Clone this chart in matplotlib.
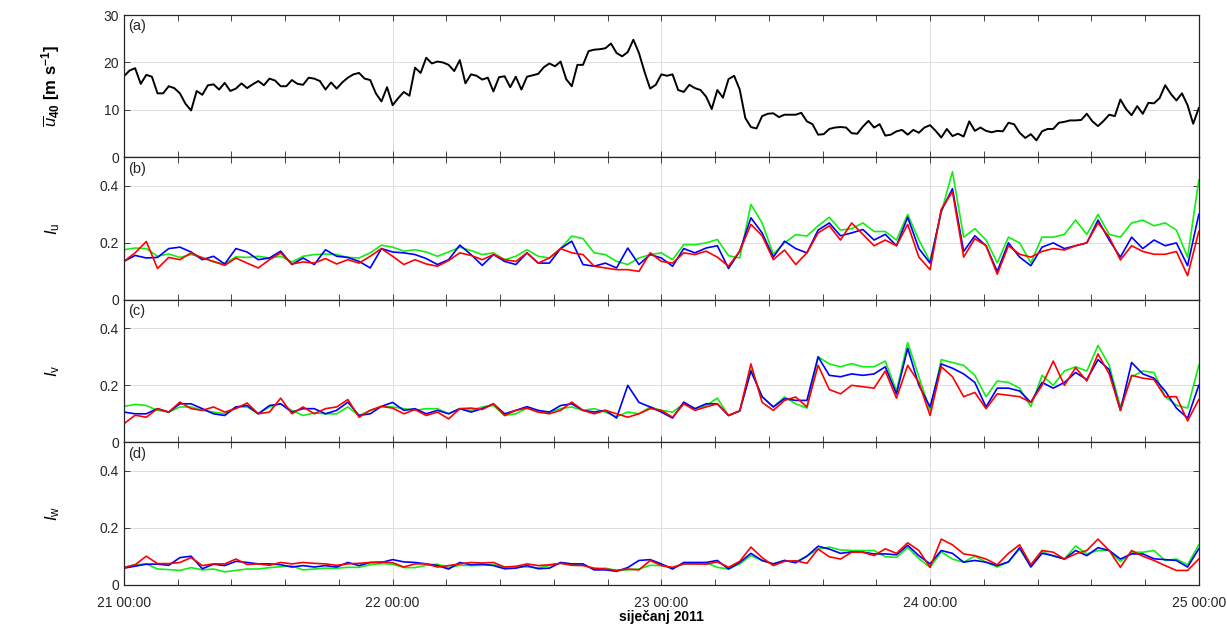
import matplotlib
matplotlib.use("Agg")
import matplotlib.pyplot as plt
import matplotlib.dates as mdates
from matplotlib.ticker import MultipleLocator
import numpy as np
import pandas as pd

plt.rcParams["font.family"] = ["Liberation Sans", "DejaVu Sans"]
plt.rcParams["mathtext.fontset"] = "custom"
plt.rcParams["mathtext.rm"] = "Liberation Sans"
plt.rcParams["mathtext.it"] = "Liberation Sans:italic"
plt.rcParams["mathtext.bf"] = "Liberation Sans:bold"
plt.rcParams["font.size"] = 10

# mean wind speed at 40 m, every 30 min from 21.01.2011 00:00
u40 = [17.1, 18.3, 18.8, 15.5, 17.4, 17.0, 13.5, 13.5, 15.0, 14.6,
       13.5, 11.3, 9.9, 14.0, 13.2, 15.2, 15.4, 14.3, 15.7, 14.0,
       14.5, 15.6, 14.6, 15.4, 16.1, 15.2, 16.6, 16.2, 15.0, 15.0,
       16.3, 15.5, 15.3, 16.8, 16.6, 16.1, 14.3, 15.8, 14.5, 15.8,
       16.8, 17.5, 17.8, 16.6, 16.3, 13.5, 11.8, 14.8, 11.0, 12.5,
       13.8, 13.0, 18.9, 17.8, 21.0, 19.8, 20.2, 20.0, 19.5, 18.2,
       20.5, 15.6, 17.5, 17.2, 16.4, 16.8, 13.9, 16.9, 17.1, 14.8,
       17.0, 14.3, 17.0, 17.3, 17.6, 19.0, 19.8, 19.2, 20.2, 16.5,
       15.0, 19.5, 19.5, 22.4, 22.7, 22.8, 23.0, 24.0, 22.0, 21.3,
       22.2, 24.8, 22.0, 18.0, 14.5, 15.3, 17.5, 17.2, 17.5, 14.2,
       13.8, 15.3, 14.6, 14.2, 12.8, 10.2, 14.2, 12.6, 16.5, 17.2,
       14.3, 8.3, 6.4, 6.1, 8.7, 9.2, 9.3, 8.5, 9.0, 9.0,
       9.0, 9.4, 7.6, 7.0, 4.8, 4.9, 6.0, 6.3, 6.4, 6.3,
       5.1, 5.0, 6.5, 7.7, 6.3, 7.0, 4.6, 4.8, 5.5, 5.8,
       4.8, 5.8, 5.2, 6.3, 6.8, 5.6, 4.2, 6.0, 4.5, 5.0,
       4.4, 7.6, 5.6, 6.3, 5.6, 5.3, 5.6, 5.5, 7.3, 7.0,
       5.2, 4.1, 4.9, 3.6, 5.5, 6.0, 6.0, 7.3, 7.5, 7.8,
       7.8, 7.9, 9.2, 7.6, 6.6, 7.7, 9.0, 8.7, 12.2, 10.2,
       8.9, 10.8, 9.2, 11.5, 11.4, 12.5, 15.2, 13.4, 12.0, 13.5,
       11.0, 7.1, 10.4]

# turbulence intensities, hourly (green / blue / red series)
iu_g = [.176, .182, .180, .153, .161, .149, .159, .149, .133, .126,
        .151, .149, .153, .147, .153, .133, .153, .159, .161, .159,
        .149, .147, .165, .192, .185, .171, .176, .168, .153, .168,
        .185, .173, .159, .165, .141, .153, .176, .153, .147, .180,
        .224, .215, .165, .159, .135, .124, .147, .159, .165, .141,
        .194, .194, .200, .212, .155, .147, .335, .270, .160, .200,
        .229, .224, .260, .290, .245, .250, .270, .240, .240, .210,
        .300, .210, .135, .306, .450, .220, .250, .210, .130, .220,
        .200, .130, .220, .220, .230, .280, .230, .300, .230, .220,
        .270, .280, .260, .270, .245, .150, .420]
iu_b = [.135, .156, .147, .149, .180, .185, .168, .141, .153, .126,
        .180, .168, .141, .147, .171, .124, .147, .124, .176, .153,
        .149, .135, .112, .180, .168, .165, .159, .145, .124, .141,
        .192, .159, .121, .159, .135, .124, .165, .129, .129, .180,
        .206, .124, .118, .129, .112, .182, .124, .159, .147, .118,
        .180, .165, .182, .190, .110, .171, .288, .235, .150, .206,
        .180, .165, .245, .270, .225, .235, .247, .210, .230, .190,
        .290, .180, .129, .312, .390, .170, .225, .190, .100, .200,
        .150, .120, .185, .200, .180, .190, .200, .280, .210, .150,
        .220, .180, .210, .190, .200, .120, .300]
iu_r = [.135, .165, .205, .110, .149, .141, .165, .147, .135, .121,
        .147, .129, .112, .141, .165, .126, .133, .129, .145, .126,
        .141, .129, .153, .180, .153, .124, .141, .126, .118, .138,
        .165, .156, .141, .159, .141, .135, .165, .129, .147, .180,
        .165, .159, .118, .112, .106, .106, .100, .165, .135, .129,
        .165, .159, .171, .150, .118, .171, .265, .225, .141, .175,
        .124, .165, .235, .260, .210, .270, .230, .190, .210, .190,
        .265, .150, .106, .318, .380, .150, .215, .190, .090, .190,
        .160, .150, .170, .180, .175, .190, .200, .270, .220, .140,
        .190, .170, .160, .160, .170, .085, .240]

iv_g = [.126, .133, .129, .112, .106, .124, .124, .112, .106, .100,
        .124, .124, .100, .124, .135, .112, .094, .103, .100, .100,
        .124, .094, .112, .126, .124, .118, .112, .118, .118, .100,
        .118, .112, .124, .129, .094, .100, .120, .106, .106, .118,
        .124, .112, .118, .106, .090, .106, .100, .124, .112, .106,
        .135, .118, .129, .155, .094, .110, .255, .160, .124, .159,
        .135, .120, .300, .275, .265, .276, .265, .265, .285, .180,
        .350, .230, .112, .290, .280, .270, .235, .160, .215, .210,
        .190, .125, .235, .200, .250, .265, .250, .340, .270, .124,
        .230, .250, .245, .160, .130, .120, .270]
iv_b = [.106, .100, .100, .118, .106, .135, .135, .118, .100, .094,
        .124, .129, .100, .129, .135, .106, .118, .118, .100, .112,
        .141, .094, .100, .126, .140, .112, .118, .100, .112, .100,
        .118, .106, .118, .135, .100, .112, .125, .112, .106, .129,
        .135, .112, .106, .112, .085, .200, .140, .124, .106, .085,
        .141, .118, .135, .135, .094, .110, .250, .160, .124, .153,
        .147, .147, .300, .235, .230, .240, .235, .240, .265, .170,
        .330, .200, .124, .275, .260, .240, .210, .124, .190, .190,
        .180, .140, .210, .190, .210, .245, .220, .290, .255, .112,
        .280, .240, .225, .180, .120, .085, .200]
iv_r = [.065, .095, .088, .118, .106, .141, .118, .112, .124, .106,
        .118, .138, .100, .106, .155, .100, .124, .100, .118, .124,
        .150, .088, .112, .126, .120, .100, .115, .094, .106, .082,
        .118, .120, .115, .135, .094, .112, .120, .106, .100, .112,
        .141, .112, .100, .112, .100, .088, .100, .118, .112, .088,
        .135, .112, .124, .135, .094, .110, .275, .140, .112, .147,
        .159, .124, .270, .185, .170, .200, .195, .190, .250, .155,
        .270, .210, .094, .265, .230, .160, .175, .118, .170, .165,
        .160, .140, .200, .285, .200, .262, .215, .310, .240, .112,
        .235, .225, .220, .160, .160, .075, .150]

iw_g = [.061, .070, .073, .055, .053, .050, .060, .052, .055, .045,
        .050, .055, .055, .060, .063, .066, .052, .055, .058, .058,
        .061, .061, .070, .074, .072, .060, .060, .068, .072, .060,
        .068, .067, .068, .070, .062, .064, .062, .059, .067, .075,
        .072, .070, .055, .058, .050, .052, .055, .068, .067, .058,
        .073, .073, .077, .061, .055, .073, .102, .085, .073, .085,
        .080, .100, .125, .132, .122, .120, .120, .120, .098, .096,
        .130, .092, .061, .115, .090, .079, .100, .079, .062, .080,
        .125, .065, .117, .100, .090, .136, .108, .120, .120, .081,
        .114, .114, .120, .085, .090, .070, .140]
iw_b = [.058, .065, .072, .072, .068, .095, .100, .056, .072, .067,
        .082, .078, .073, .073, .070, .062, .067, .062, .067, .062,
        .078, .067, .078, .078, .088, .080, .078, .073, .067, .055,
        .078, .070, .072, .067, .056, .058, .067, .056, .058, .078,
        .073, .073, .052, .052, .047, .060, .085, .088, .073, .055,
        .078, .078, .078, .085, .055, .078, .110, .085, .073, .085,
        .077, .100, .135, .125, .110, .115, .114, .108, .108, .105,
        .138, .102, .073, .120, .110, .079, .085, .079, .067, .080,
        .130, .062, .110, .102, .090, .120, .102, .130, .120, .090,
        .108, .108, .091, .088, .085, .062, .126]
iw_r = [.060, .070, .100, .074, .074, .078, .095, .067, .073, .073,
        .090, .071, .073, .068, .078, .073, .078, .075, .073, .068,
        .073, .075, .078, .080, .077, .062, .073, .073, .062, .067,
        .073, .078, .076, .078, .062, .064, .073, .067, .070, .075,
        .068, .067, .058, .055, .050, .055, .052, .085, .067, .061,
        .073, .073, .072, .080, .061, .082, .132, .095, .067, .082,
        .084, .075, .125, .098, .090, .114, .114, .102, .126, .110,
        .147, .120, .061, .160, .140, .108, .102, .090, .070, .110,
        .140, .070, .120, .114, .090, .108, .120, .160, .120, .061,
        .120, .100, .085, .067, .050, .050, .090]

t_a = pd.date_range("2011-01-21 00:00", periods=len(u40), freq="30min")
t_i = pd.date_range("2011-01-21 00:00", periods=len(iu_g), freq="h")

panels = [
    ("(a)", r"$\overline{u}_{\mathbf{40}}$ [m s$^{\mathbf{-1}}$]"),
    ("(b)", r"$I_{\mathrm{u}}$"),
    ("(c)", r"$I_{\mathrm{v}}$"),
    ("(d)", r"$I_{\mathrm{w}}$"),
]
series = [None, (iu_g, iu_b, iu_r), (iv_g, iv_b, iv_r), (iw_g, iw_b, iw_r)]

fig, axs = plt.subplots(4, 1, sharex=True, figsize=(12.27, 6.26), dpi=100)
fig.subplots_adjust(left=0.101, right=0.977, top=0.976, bottom=0.066, hspace=0)

for i, ax in enumerate(axs):
    lab, ylab = panels[i]
    if i == 0:
        ax.plot(t_a, u40, color="black", lw=1.4)
        ax.set_ylim(0, 30)
        ax.set_yticks([0, 10, 20, 30])
    else:
        g, b, r = series[i]
        ax.plot(t_i, g, color="#11ee11", lw=1.2)
        ax.plot(t_i, b, color="#0000ff", lw=1.2)
        ax.plot(t_i, r, color="#ff0000", lw=1.2)
        ax.set_ylim(0, 0.5)
        ax.set_yticks([0, 0.2, 0.4], ["0", "0.2", "0.4"])
    ax.set_ylabel(ylab, fontweight="bold", fontsize=12)
    ax.yaxis.set_label_coords(-0.058, 0.5)
    ax.text(0.004, 0.97, lab, transform=ax.transAxes, ha="left", va="top", fontsize=10.5, color="#262626")
    ax.grid(True, which="major", color="#dedede", lw=0.7)
    ax.set_axisbelow(True)
    ax.tick_params(direction="in", which="both", top=True, right=True, colors="#262626",
                   labelsize=10, length=4, width=0.6)
    for s in ax.spines.values():
        s.set_color("#262626")
        s.set_linewidth(0.9)

ax = axs[-1]
ax.set_xlim(pd.Timestamp("2011-01-21 00:00"), pd.Timestamp("2011-01-25 00:00"))
ax.xaxis.set_major_locator(mdates.DayLocator())
ax.xaxis.set_major_formatter(mdates.DateFormatter("%d %H:%M"))
ax.xaxis.set_minor_locator(MultipleLocator(0.2))
ax.tick_params(axis="x", pad=8)
ax.set_xlabel("siječanj 2011", fontweight="bold", fontsize=10, labelpad=0)

fig.savefig("out.png", dpi=100)
